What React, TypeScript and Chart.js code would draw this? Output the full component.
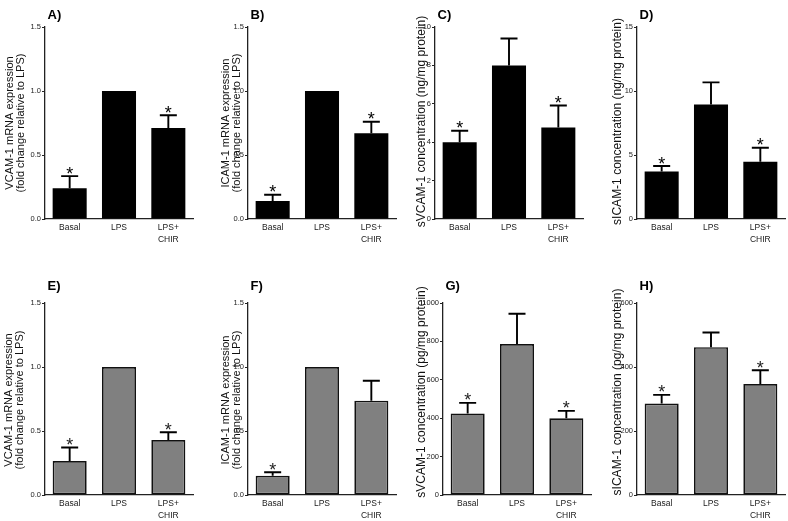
import React, { useEffect, useRef } from "react";
import { Chart, registerables } from "chart.js";

Chart.register(...registerables);

const FONT = "'Liberation Sans', Arial, Helvetica, sans-serif";
Chart.defaults.font.family = FONT;

// ---------- data ----------
const categories = ["Basal", "LPS", ["LPS+", "CHIR"]];

const meanA = [0.24, 1.0, 0.71];
const semA = [0.095, 0, 0.1];
const sigA = [true, false, true];

const meanB = [0.14, 1.0, 0.67];
const semB = [0.05, 0, 0.09];
const sigB = [true, false, true];

const meanC = [4.0, 8.0, 4.76];
const semC = [0.6, 1.4, 1.15];
const sigC = [true, false, true];

const meanD = [3.72, 8.95, 4.47];
const semD = [0.42, 1.72, 1.1];
const sigD = [true, false, true];

const meanE = [0.266, 1.0, 0.43];
const semE = [0.105, 0, 0.06];
const sigE = [true, false, true];

const meanF = [0.15, 1.0, 0.737];
const semF = [0.028, 0, 0.155];
const sigF = [true, false, false];

const meanG = [425, 786, 400];
const semG = [55, 158, 38];
const sigG = [true, false, true];

const meanH = [286, 462, 347];
const semH = [27, 46, 43];
const sigH = [true, false, true];

const ticksFold = [0, 0.5, 1.0, 1.5];
const ticksC = [0, 2, 4, 6, 8, 10];
const ticksD = [0, 5, 10, 15];
const ticksG = [0, 200, 400, 600, 800, 1000];
const ticksH = [0, 200, 400, 600];

const titleVCAMmRNA = ["VCAM-1 mRNA expression", "(fold change relative to LPS)"];
const titleICAMmRNA = ["ICAM-1 mRNA expression", "(fold change relative to LPS)"];
const titleC = ["sVCAM-1 concentration (ng/mg protein)"];
const titleD = ["sICAM-1 concentration (ng/mg protein)"];
const titleG = ["sVCAM-1 concentration (pg/mg protein)"];
const titleH = ["sICAM-1 concentration (pg/mg protein)"];

// ---------- layout ----------
const panels = [
  { label: "A)", mean: meanA, sem: semA, sig: sigA, ticks: ticksFold, dec: true, yTitle: titleVCAMmRNA, tSize: 11, dark: true,
    x0: 0, y0: 0, w: 197, h: 260, left: 45, right: 193, top: 27, bottom: 219, titleX: 10, titleY: 123, labelY: 15.5 },
  { label: "B)", mean: meanB, sem: semB, sig: sigB, ticks: ticksFold, dec: true, yTitle: titleICAMmRNA, tSize: 11, dark: true,
    x0: 197, y0: 0, w: 200, h: 260, left: 248, right: 396, top: 27, bottom: 219, titleX: 226, titleY: 123, labelY: 15.5 },
  { label: "C)", mean: meanC, sem: semC, sig: sigC, ticks: ticksC, dec: false, yTitle: titleC, tSize: 12, dark: true,
    x0: 397, y0: 0, w: 195, h: 260, left: 435, right: 583, top: 27, bottom: 219, titleX: 421.5, titleY: 121.5, labelY: 15.5 },
  { label: "D)", mean: meanD, sem: semD, sig: sigD, ticks: ticksD, dec: false, yTitle: titleD, tSize: 12, dark: true,
    x0: 592, y0: 0, w: 196, h: 260, left: 637, right: 785, top: 27, bottom: 219, titleX: 617.5, titleY: 121.5, labelY: 15.5 },
  { label: "E)", mean: meanE, sem: semE, sig: sigE, ticks: ticksFold, dec: true, yTitle: titleVCAMmRNA, tSize: 11, dark: false,
    x0: 0, y0: 260, w: 197, h: 261, left: 45, right: 193, top: 303, bottom: 495, titleX: 9, titleY: 400, labelY: 286 },
  { label: "F)", mean: meanF, sem: semF, sig: sigF, ticks: ticksFold, dec: true, yTitle: titleICAMmRNA, tSize: 11, dark: false,
    x0: 197, y0: 260, w: 200, h: 261, left: 248, right: 396, top: 303, bottom: 495, titleX: 226, titleY: 400, labelY: 286 },
  { label: "G)", mean: meanG, sem: semG, sig: sigG, ticks: ticksG, dec: false, yTitle: titleG, tSize: 12, dark: false,
    x0: 397, y0: 260, w: 195, h: 261, left: 443, right: 591, top: 303, bottom: 495, titleX: 421.5, titleY: 392, labelY: 286 },
  { label: "H)", mean: meanH, sem: semH, sig: sigH, ticks: ticksH, dec: false, yTitle: titleH, tSize: 12, dark: false,
    x0: 592, y0: 260, w: 196, h: 261, left: 637, right: 785, top: 303, bottom: 495, titleX: 617.5, titleY: 392, labelY: 286 },
];

const marksPlugin = {
  id: "semMarks",
  afterDatasetsDraw(chart: any, _args: any, opts: any) {
    const { ctx } = chart;
    const meta = chart.getDatasetMeta(0);
    const yScale = chart.scales.y;
    const data = chart.data.datasets[0].data as number[];
    ctx.save();
    meta.data.forEach((bar: any, i: number) => {
      const p = bar.getProps(["x", "y", "width"], true);
      const sem = opts.sem[i];
      let topY = p.y;
      if (sem > 0) {
        const eY = yScale.getPixelForValue(data[i] + sem);
        ctx.strokeStyle = "#000";
        ctx.lineWidth = 1.9;
        ctx.beginPath();
        ctx.moveTo(p.x, p.y);
        ctx.lineTo(p.x, eY);
        const half = p.width * 0.25;
        ctx.moveTo(p.x - half, eY);
        ctx.lineTo(p.x + half, eY);
        ctx.stroke();
        topY = eY;
      }
      if (opts.sig[i]) {
        ctx.font = `18px ${FONT}`;
        ctx.fillStyle = opts.dark ? "#000" : "#222";
        ctx.textAlign = "center";
        ctx.textBaseline = "alphabetic";
        const m = ctx.measureText("*");
        const base = topY - 2.5 - m.actualBoundingBoxDescent;
        ctx.fillText("*", p.x, base);
      }
    });
    ctx.restore();
  },
  afterDraw(chart: any, _args: any, opts: any) {
    const { ctx, chartArea } = chart;
    ctx.save();
    // panel label
    ctx.font = `bold 13px ${FONT}`;
    ctx.fillStyle = "#000";
    ctx.textAlign = "left";
    ctx.textBaseline = "middle";
    ctx.fillText(opts.label, chartArea.left + 2.5, opts.labelY);
    // y-axis title
    ctx.font = `${opts.tSize}px ${FONT}`;
    ctx.fillStyle = "#111";
    ctx.textAlign = "center";
    ctx.textBaseline = "middle";
    ctx.translate(opts.titleX, opts.titleY);
    ctx.rotate(-Math.PI / 2);
    (opts.yTitle as string[]).forEach((ln, k) => ctx.fillText(ln, 0, k * opts.tSize));
    ctx.restore();
  },
};

function Panel({ cfg }: { cfg: any }) {
  const ref = useRef<HTMLCanvasElement | null>(null);
  useEffect(() => {
    if (!ref.current) return;
    const chart = new Chart(ref.current, {
      type: "bar",
      data: {
        labels: categories as any,
        datasets: [
          {
            data: cfg.mean,
            backgroundColor: cfg.dark ? "#000000" : "#808080",
            borderColor: "#111111",
            borderWidth: cfg.dark ? 0 : 1.7,
            borderSkipped: false,
            barPercentage: 0.69,
            categoryPercentage: 1,
          },
        ],
      },
      options: {
        responsive: false,
        animation: false,
        devicePixelRatio: 1,
        layout: {
          padding: { left: 0, top: cfg.top - cfg.y0, right: cfg.x0 + cfg.w - cfg.right, bottom: 0 },
        },
        plugins: {
          legend: { display: false },
          tooltip: { enabled: false },
          title: { display: false },
          semMarks: {
            sem: cfg.sem,
            sig: cfg.sig,
            dark: cfg.dark,
            label: cfg.label,
            labelY: cfg.labelY - cfg.y0,
            yTitle: cfg.yTitle,
            tSize: cfg.tSize,
            titleX: cfg.titleX - cfg.x0,
            titleY: cfg.titleY - cfg.y0,
          },
        } as any,
        scales: {
          x: {
            grid: { display: false, drawTicks: false },
            border: { display: true, color: "#222", width: 1.3 },
            ticks: {
              color: "#1a1a1a",
              font: { size: 8.5, lineHeight: 1.35 },
              padding: 3,
              maxRotation: 0,
              autoSkip: false,
            },
            afterFit: (s: any) => {
              s.height = cfg.y0 + cfg.h - cfg.bottom;
            },
          },
          y: {
            min: 0,
            max: cfg.ticks[cfg.ticks.length - 1],
            afterBuildTicks: (s: any) => {
              s.ticks = cfg.ticks.map((v: number) => ({ value: v }));
            },
            ticks: {
              color: "#222",
              font: { size: 7.5 },
              padding: 1,
              callback: (v: any) => (cfg.dec ? Number(v).toFixed(1) : String(v)),
            },
            grid: { drawOnChartArea: false, drawTicks: true, tickLength: 3, tickColor: "#222", tickWidth: 1 },
            border: { display: true, color: "#222", width: 1.3 },
            afterFit: (s: any) => {
              s.width = cfg.left - cfg.x0;
            },
          },
        },
      },
      plugins: [marksPlugin as any],
    });
    return () => chart.destroy();
  }, [cfg]);
  return (
    <canvas
      ref={ref}
      width={cfg.w}
      height={cfg.h}
      style={{ position: "absolute", left: cfg.x0, top: cfg.y0, width: cfg.w, height: cfg.h }}
    />
  );
}

export default function App() {
  return (
    <div style={{ position: "absolute", left: 0, top: 0, width: 788, height: 521, background: "#fff" }}>
      {panels.map((p) => (
        <Panel key={p.label} cfg={p} />
      ))}
    </div>
  );
}
